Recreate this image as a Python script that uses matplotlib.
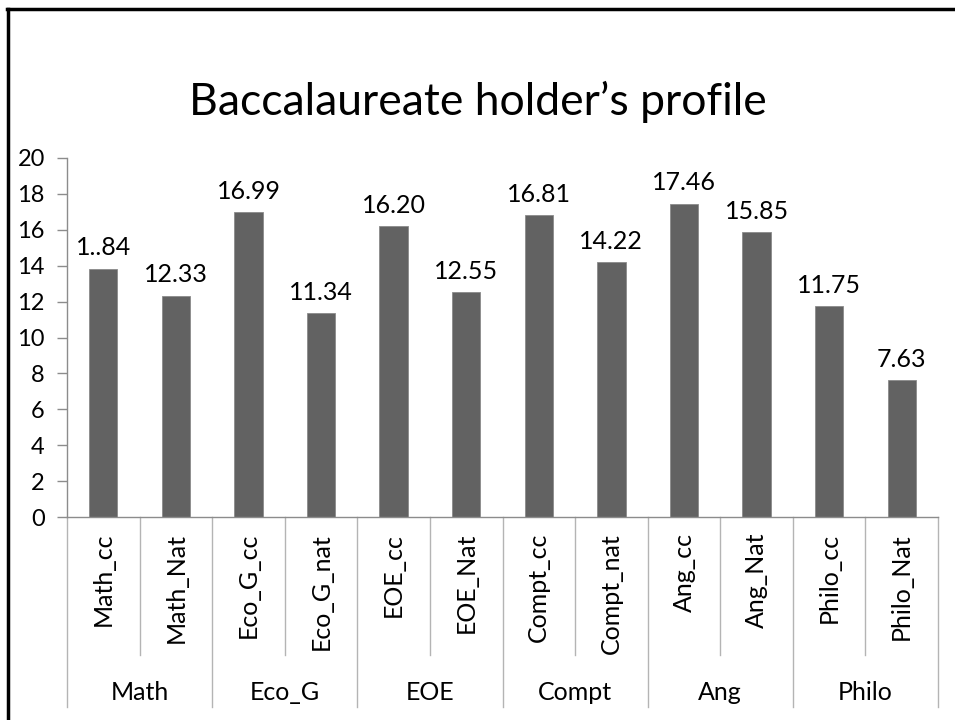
import matplotlib
matplotlib.use("Agg")
import matplotlib.pyplot as plt
from matplotlib.lines import Line2D

categories = ["Math_cc", "Math_Nat", "Eco_G_cc", "Eco_G_nat", "EOE_cc", "EOE_Nat",
              "Compt_cc", "Compt_nat", "Ang_cc", "Ang_Nat", "Philo_cc", "Philo_Nat"]
groups = ["Math", "Eco_G", "EOE", "Compt", "Ang", "Philo"]
values = [13.84, 12.33, 16.99, 11.34, 16.20, 12.55, 16.81, 14.22, 17.46, 15.85, 11.75, 7.63]
value_labels = ["1..84", "12.33", "16.99", "11.34", "16.20", "12.55",
                "16.81", "14.22", "17.46", "15.85", "11.75", "7.63"]
yticks = [0, 2, 4, 6, 8, 10, 12, 14, 16, 18, 20]

plt.rcParams['font.family'] = ['Lato', 'DejaVu Sans']

W, H = 955, 720
fig = plt.figure(figsize=(W / 100, H / 100), dpi=100)

# outer frame (extends beyond right and bottom)
fig.add_artist(Line2D([8 / W, 8 / W], [0, 1 - 8.5 / H], transform=fig.transFigure,
                      color='black', lw=2.5))
fig.add_artist(Line2D([7 / W, 1], [1 - 9 / H, 1 - 9 / H], transform=fig.transFigure,
                      color='black', lw=2.5))

x0, x1 = 67, 938
y0, ytop = 517, 158
ax = fig.add_axes([x0 / W, 1 - y0 / H, (x1 - x0) / W, (y0 - ytop) / H])

n = len(categories)
xs = list(range(n))
ax.bar(xs, values, width=0.39, color='#626262', edgecolor='#8a8a8a', linewidth=0.6, zorder=2)
ax.set_xlim(-0.5, n - 0.5)
ax.set_ylim(0, 20)
ax.set_yticks(yticks)
ax.set_yticklabels([str(t) for t in yticks], fontsize=17)
ax.tick_params(axis='y', length=7, width=1, color='#8c8c8c', pad=9)
ax.set_xticks([])

for s in ['top', 'right']:
    ax.spines[s].set_visible(False)
for s in ['left', 'bottom']:
    ax.spines[s].set_color('#8c8c8c')
    ax.spines[s].set_linewidth(1)

for x, v, lab in zip(xs, values, value_labels):
    ax.annotate(lab, (x, v), xytext=(0, 9.5), textcoords='offset points',
                ha='center', va='baseline', fontsize=18)

unit = (y0 - ytop)
inner_y = -(655 - y0) / unit
group_y = -(707 - y0) / unit
trans = ax.get_xaxis_transform()
for b in range(n + 1):
    xb = b - 0.5
    yb = group_y if b % 2 == 0 else inner_y
    ax.add_line(Line2D([xb, xb], [0, yb], transform=trans, color='#b4b4b4',
                       lw=1, clip_on=False))

label_top = -(533 - y0) / unit
for x, c in zip(xs, categories):
    ax.text(x, label_top, c, rotation=90, ha='center', va='top', fontsize=18,
            transform=trans)

group_label_y = -(692 - y0) / unit
for i, g in enumerate(groups):
    ax.text(2 * i + 0.5, group_label_y, g, ha='center', va='center', fontsize=18,
            transform=trans)

fig.text(478 / W, 1 - 115 / H, "Baccalaureate holder\u2019s profile", ha='center',
         va='baseline', fontsize=32)

fig.savefig("out.png", dpi=100)
